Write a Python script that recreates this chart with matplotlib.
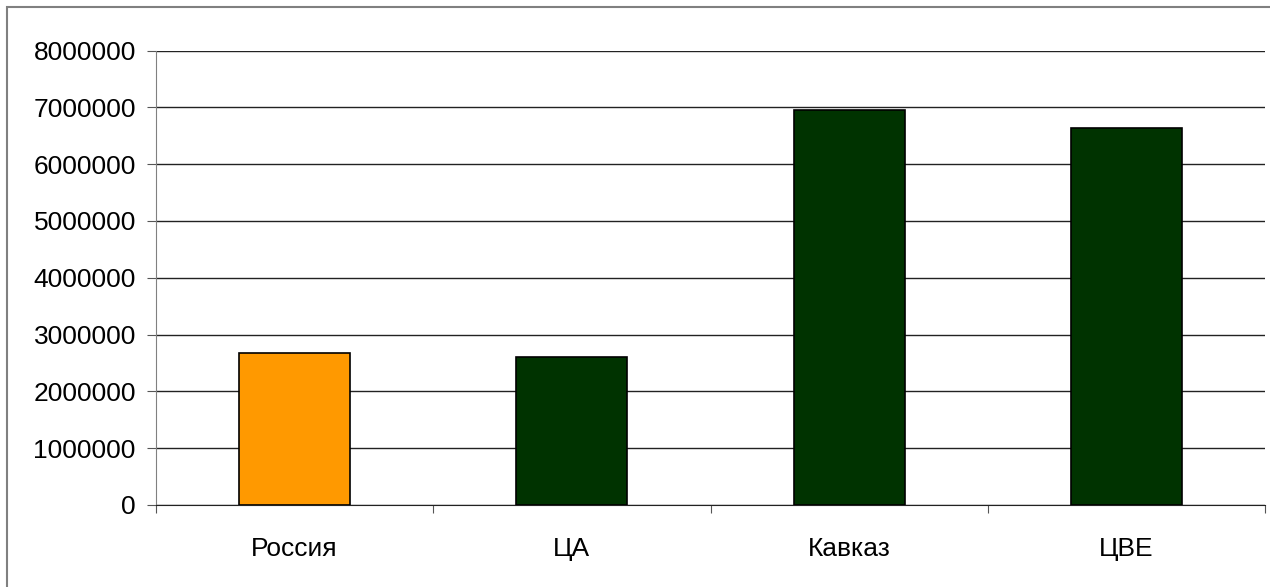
import matplotlib
matplotlib.use("Agg")
import matplotlib.pyplot as plt
from matplotlib.patches import Rectangle

plt.rcParams['font.family'] = ['Liberation Sans', 'DejaVu Sans']

# data
regions = ["Россия", "ЦА", "Кавказ", "ЦВЕ"]
values = [2670000, 2610000, 6960000, 6630000]
colors = ["#FF9900", "#003300", "#003300", "#003300"]
yticks = [0, 1000000, 2000000, 3000000, 4000000, 5000000, 6000000, 7000000, 8000000]

W, H = 1270, 587
fig = plt.figure(figsize=(W / 100, H / 100), dpi=100)
ax = fig.add_axes([156 / W, 1 - 505 / H, (1265 - 156) / W, (505 - 50.5) / H])

# outer frame of the chart area
fig.patches.append(Rectangle((7 / W, -0.1), 1.2, 1 - 7 / H + 0.1, transform=fig.transFigure,
                             fill=False, edgecolor="#808080", linewidth=1.5))

x = list(range(len(regions)))
ax.bar(x, values, width=0.40, color=colors, edgecolor="black", linewidth=1.2, zorder=3)

ax.set_xlim(-0.5, len(regions) - 0.5)
ax.set_ylim(0, 8000000)
ax.set_yticks(yticks)
ax.set_yticklabels([str(v) for v in yticks], fontsize=19)
ax.yaxis.grid(True, color="#222222", linewidth=1)
ax.set_axisbelow(True)

# category labels between the boundary ticks
ax.set_xticks([i - 0.5 for i in range(len(regions) + 1)])
ax.set_xticklabels([])
ax.set_xticks(x, minor=True)
ax.set_xticklabels(regions, minor=True, fontsize=19)
ax.tick_params(axis="x", which="minor", length=0, pad=23)
ax.tick_params(axis="x", which="major", length=6, color="#555555")
ax.tick_params(axis="y", length=6.5, color="#555555", pad=8)

for s in ["top", "right"]:
    ax.spines[s].set_visible(False)
ax.spines["left"].set_color("#808080")
ax.spines["bottom"].set_color("#222222")

fig.savefig("out.png", dpi=100)
